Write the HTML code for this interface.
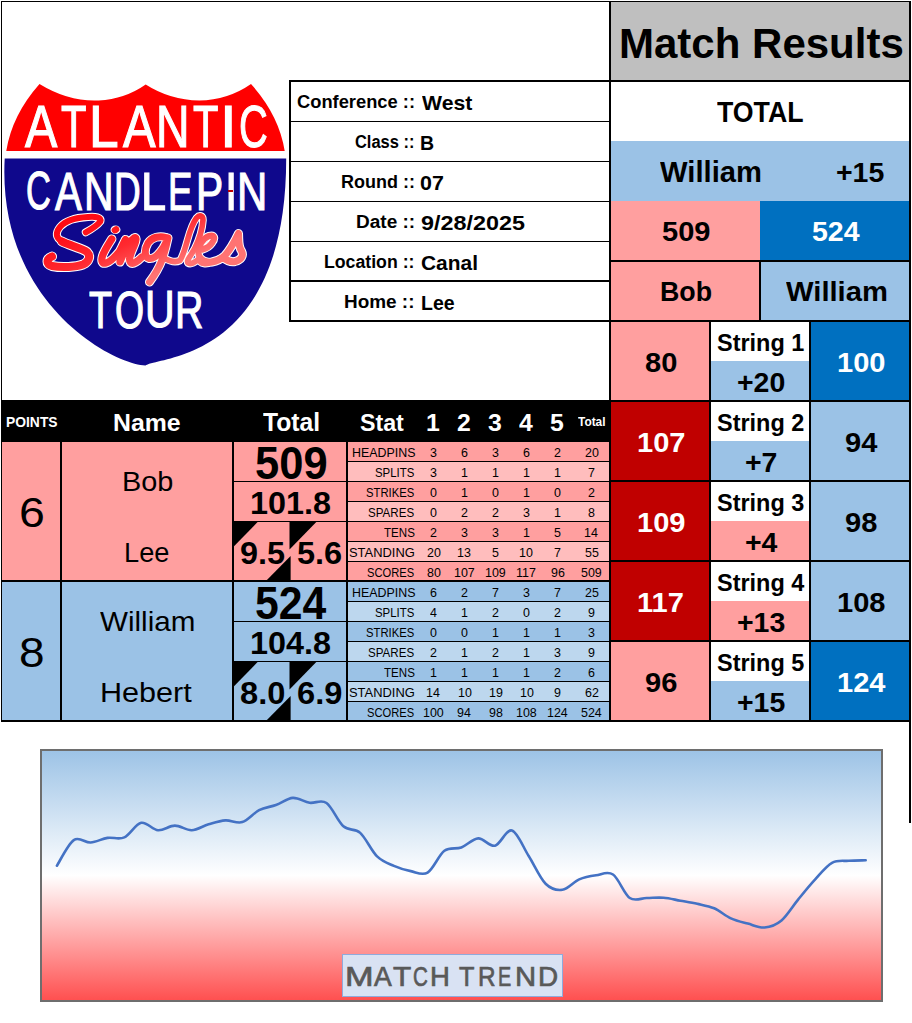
<!DOCTYPE html>
<html><head><meta charset="utf-8"><style>
html,body{margin:0;padding:0;background:#fff;}
#p{position:relative;width:912px;height:1023px;overflow:hidden;background:#fff;font-family:"Liberation Sans",sans-serif;}
#p div{position:absolute;}
.t{white-space:nowrap;transform-origin:0 0;}
</style></head><body><div id="p">
<svg style="position:absolute;left:0;top:0" width="300" height="380">
<path d="M39.5,84 Q69,102 98.7,100.5 Q125,99 145.7,84.5 Q170,100 199.2,100.5 Q228,100 251,84 Q279,115 284.7,151 L6.25,151 Q12,115 39.5,84 Z" fill="#FF0000"/>
<path d="M4.7,158.6 C-2.9,304.3 114.6,364.9 145.5,365.4 C158.8,356.2 286.2,360.6 286.2,158.6 Z" fill="#0F088C"/>
</svg><div class="t" style="left:25.25px;top:94.46px;font-size:59.86px;line-height:66.87px;font-weight:normal;color:#fff;transform:scaleX(0.8090);-webkit-text-stroke:1.2px #fff">A</div><div class="t" style="left:61.41px;top:94.46px;font-size:59.86px;line-height:66.87px;font-weight:normal;color:#fff;transform:scaleX(0.6976);-webkit-text-stroke:1.2px #fff">T</div><div class="t" style="left:89.39px;top:94.46px;font-size:59.86px;line-height:66.87px;font-weight:normal;color:#fff;transform:scaleX(0.8898);-webkit-text-stroke:1.2px #fff">L</div><div class="t" style="left:123.40px;top:94.46px;font-size:59.86px;line-height:66.87px;font-weight:normal;color:#fff;transform:scaleX(0.8165);-webkit-text-stroke:1.2px #fff">A</div><div class="t" style="left:156.34px;top:94.46px;font-size:59.86px;line-height:66.87px;font-weight:normal;color:#fff;transform:scaleX(0.7757);-webkit-text-stroke:1.2px #fff">N</div><div class="t" style="left:193.27px;top:94.46px;font-size:59.86px;line-height:66.87px;font-weight:normal;color:#fff;transform:scaleX(0.6947);-webkit-text-stroke:1.2px #fff">T</div><div class="t" style="left:220.45px;top:94.46px;font-size:59.86px;line-height:66.87px;font-weight:normal;color:#fff;transform:scaleX(1.0024);-webkit-text-stroke:1.2px #fff">I</div><div class="t" style="left:239.41px;top:94.46px;font-size:59.86px;line-height:66.87px;font-weight:normal;color:#fff;transform:scaleX(0.6656);-webkit-text-stroke:1.2px #fff">C</div><div class="t" style="left:26.43px;top:160.41px;font-size:54.06px;line-height:60.39px;font-weight:normal;color:#fff;transform:scaleX(0.6380);-webkit-text-stroke:1.2px #fff">C</div><div class="t" style="left:55.40px;top:161.41px;font-size:54.06px;line-height:60.39px;font-weight:normal;color:#fff;transform:scaleX(0.7455);-webkit-text-stroke:1.2px #fff">A</div><div class="t" style="left:84.38px;top:161.41px;font-size:54.06px;line-height:60.39px;font-weight:normal;color:#fff;transform:scaleX(0.7565);-webkit-text-stroke:1.2px #fff">N</div><div class="t" style="left:114.49px;top:161.41px;font-size:54.06px;line-height:60.39px;font-weight:normal;color:#fff;transform:scaleX(0.6840);-webkit-text-stroke:1.2px #fff">D</div><div class="t" style="left:141.44px;top:161.41px;font-size:54.06px;line-height:60.39px;font-weight:normal;color:#fff;transform:scaleX(0.8356);-webkit-text-stroke:1.2px #fff">L</div><div class="t" style="left:168.31px;top:161.41px;font-size:54.06px;line-height:60.39px;font-weight:normal;color:#fff;transform:scaleX(0.6788);-webkit-text-stroke:1.2px #fff">E</div><div class="t" style="left:196.29px;top:161.41px;font-size:54.06px;line-height:60.39px;font-weight:normal;color:#fff;transform:scaleX(0.7538);-webkit-text-stroke:1.2px #fff">P</div><div class="t" style="left:225.37px;top:161.41px;font-size:54.06px;line-height:60.39px;font-weight:normal;color:#fff;transform:scaleX(0.8178);-webkit-text-stroke:1.2px #fff">I</div><div class="t" style="left:237.39px;top:161.41px;font-size:54.06px;line-height:60.39px;font-weight:normal;color:#fff;transform:scaleX(0.7763);-webkit-text-stroke:1.2px #fff">N</div><div class="t" style="left:89.30px;top:282.39px;font-size:51.59px;line-height:57.64px;font-weight:normal;color:#fff;transform:scaleX(0.7311);-webkit-text-stroke:1.2px #fff">T</div><div class="t" style="left:115.27px;top:282.39px;font-size:51.59px;line-height:57.64px;font-weight:normal;color:#fff;transform:scaleX(0.7244);-webkit-text-stroke:1.2px #fff">O</div><div class="t" style="left:145.37px;top:281.43px;font-size:51.59px;line-height:57.64px;font-weight:normal;color:#fff;transform:scaleX(0.7957);-webkit-text-stroke:1.2px #fff">U</div><div class="t" style="left:175.30px;top:282.39px;font-size:51.59px;line-height:57.64px;font-weight:normal;color:#fff;transform:scaleX(0.7623);-webkit-text-stroke:1.2px #fff">R</div><div style="left:227.8px;top:190.3px;width:5.4px;height:2px;background:#C00000"></div><svg style="position:absolute;left:0;top:0" width="300" height="380">
<defs><linearGradient id="sg" gradientUnits="userSpaceOnUse" x1="100" y1="215" x2="130" y2="285"><stop offset="0" stop-color="#FF0A14"/><stop offset="0.5" stop-color="#FF2A30"/><stop offset="1" stop-color="#FF7373"/></linearGradient></defs>
<g fill="none" stroke="#FFF" stroke-linecap="round" stroke-linejoin="round"><path d="M85.8,232.3 C90,230 97,226 100.3,221.5 C102,217 95,216.5 88,217 C78,217.5 66,220 60,227 C55,233 56,238 62,241.5" stroke-width="8.0"/><path d="M62,241.5 C68,245 82,248 87,252 C91,256 89,262 83,264.5 C76,267 62,268 52,266 C46,264 46,259 52,256.5" stroke-width="10.0"/><path d="M111.8,239 C108,245 104,251 102.5,256 C101,261 102,264 106,263 C110,262 115,257 119.5,251.5 C122,247 124,242 125.5,239.5 C123,246 121,253 120,262 C124,252 129,241 134,238 C137,236.5 136.5,240 134,246 C131,253 128,259 130.5,262.5 C133,265 138,261 142,257" stroke-width="9.2"/><path d="M166,237.5 C160,235.5 152,237 148,243 C144,250 144.5,257 149,258.5 C154,259.5 159,254 163,248 C165.5,244 167,240 168,238 C166.5,245 165,252 162,260 C159,268 154,276 149.5,282" stroke-width="9.0"/><path d="M164,258 C170,261.5 176,262.5 180,260.5 C183,256 185,249 187.5,240 C190,231 193.5,222 196.5,218 C199.5,214.5 203,215.5 203,220 C202.5,228 199,240 194.5,249 C190.5,256 186,261 188,263 C191,265 195,262 199,259" stroke-width="7.6"/><path d="M199,259 C201,264 206,264.5 212,262 C205,262 199,259 198.5,253 C198,246 203,238 209,236 C214,234.5 216,238 212,243 C210,246 206,248.5 202.5,249.5" stroke-width="8.2"/><path d="M212,262 C217,261 221,259 224.5,256 C229,251 234,243 238.5,233.5 C239,240 238,246 241.5,251 C244,256 241,260 235,261.5 C230,262.5 226,260 223,257.5" stroke-width="9.0"/><ellipse cx="115.5" cy="229.8" rx="5" ry="4.3" fill="#fff" stroke="none"/></g>
<g fill="none" stroke="url(#sg)" stroke-linecap="round" stroke-linejoin="round"><path d="M85.8,232.3 C90,230 97,226 100.3,221.5 C102,217 95,216.5 88,217 C78,217.5 66,220 60,227 C55,233 56,238 62,241.5" stroke-width="6.0"/><path d="M62,241.5 C68,245 82,248 87,252 C91,256 89,262 83,264.5 C76,267 62,268 52,266 C46,264 46,259 52,256.5" stroke-width="8.0"/><path d="M111.8,239 C108,245 104,251 102.5,256 C101,261 102,264 106,263 C110,262 115,257 119.5,251.5 C122,247 124,242 125.5,239.5 C123,246 121,253 120,262 C124,252 129,241 134,238 C137,236.5 136.5,240 134,246 C131,253 128,259 130.5,262.5 C133,265 138,261 142,257" stroke-width="7.2"/><path d="M166,237.5 C160,235.5 152,237 148,243 C144,250 144.5,257 149,258.5 C154,259.5 159,254 163,248 C165.5,244 167,240 168,238 C166.5,245 165,252 162,260 C159,268 154,276 149.5,282" stroke-width="7.0"/><path d="M164,258 C170,261.5 176,262.5 180,260.5 C183,256 185,249 187.5,240 C190,231 193.5,222 196.5,218 C199.5,214.5 203,215.5 203,220 C202.5,228 199,240 194.5,249 C190.5,256 186,261 188,263 C191,265 195,262 199,259" stroke-width="5.6"/><path d="M199,259 C201,264 206,264.5 212,262 C205,262 199,259 198.5,253 C198,246 203,238 209,236 C214,234.5 216,238 212,243 C210,246 206,248.5 202.5,249.5" stroke-width="6.2"/><path d="M212,262 C217,261 221,259 224.5,256 C229,251 234,243 238.5,233.5 C239,240 238,246 241.5,251 C244,256 241,260 235,261.5 C230,262.5 226,260 223,257.5" stroke-width="7.0"/></g>
<ellipse cx="115.5" cy="229.8" rx="4" ry="3.3" fill="#FF1A20" transform="rotate(-30 115.5 229.8)"/>
</svg>
<div style="left:1px;top:1px;width:910px;height:1px;background:#000"></div><div style="left:1px;top:1px;width:1px;height:721px;background:#000"></div><div style="left:909px;top:1px;width:2px;height:822px;background:#000"></div><div style="left:611px;top:2px;width:298px;height:78px;background:#BFBFBF"></div><div style="left:609px;top:1px;width:2px;height:721px;background:#000"></div><div style="left:289px;top:80px;width:622px;height:2px;background:#000"></div><div style="left:611px;top:141px;width:298px;height:60px;background:#9BC2E6"></div><div style="left:611px;top:201px;width:149px;height:59px;background:#FF9F9F"></div><div style="left:760px;top:201px;width:149px;height:59px;background:#0070C0"></div><div style="left:609px;top:260px;width:302px;height:2px;background:#000"></div><div style="left:611px;top:262px;width:148px;height:58px;background:#FF9F9F"></div><div style="left:761px;top:262px;width:148px;height:58px;background:#9BC2E6"></div><div style="left:759px;top:260px;width:2px;height:62px;background:#000"></div><div style="left:289px;top:320px;width:622px;height:2px;background:#000"></div><div style="left:611px;top:322px;width:98px;height:78px;background:#FF9F9F"></div><div style="left:711px;top:361px;width:98px;height:39px;background:#9BC2E6"></div><div style="left:811px;top:322px;width:98px;height:78px;background:#0070C0"></div><div style="left:709px;top:320px;width:2px;height:82px;background:#000"></div><div style="left:809px;top:320px;width:2px;height:82px;background:#000"></div><div style="left:609px;top:400px;width:302px;height:2px;background:#000"></div><div style="left:611px;top:402px;width:98px;height:78px;background:#C00000"></div><div style="left:711px;top:441px;width:98px;height:39px;background:#9BC2E6"></div><div style="left:811px;top:402px;width:98px;height:78px;background:#9BC2E6"></div><div style="left:709px;top:400px;width:2px;height:82px;background:#000"></div><div style="left:809px;top:400px;width:2px;height:82px;background:#000"></div><div style="left:609px;top:480px;width:302px;height:2px;background:#000"></div><div style="left:611px;top:482px;width:98px;height:78px;background:#C00000"></div><div style="left:711px;top:521px;width:98px;height:39px;background:#FF9F9F"></div><div style="left:811px;top:482px;width:98px;height:78px;background:#9BC2E6"></div><div style="left:709px;top:480px;width:2px;height:82px;background:#000"></div><div style="left:809px;top:480px;width:2px;height:82px;background:#000"></div><div style="left:609px;top:560px;width:302px;height:2px;background:#000"></div><div style="left:611px;top:562px;width:98px;height:78px;background:#C00000"></div><div style="left:711px;top:601px;width:98px;height:39px;background:#FF9F9F"></div><div style="left:811px;top:562px;width:98px;height:78px;background:#9BC2E6"></div><div style="left:709px;top:560px;width:2px;height:82px;background:#000"></div><div style="left:809px;top:560px;width:2px;height:82px;background:#000"></div><div style="left:609px;top:640px;width:302px;height:2px;background:#000"></div><div style="left:611px;top:642px;width:98px;height:78px;background:#FF9F9F"></div><div style="left:711px;top:681px;width:98px;height:39px;background:#9BC2E6"></div><div style="left:811px;top:642px;width:98px;height:78px;background:#0070C0"></div><div style="left:709px;top:640px;width:2px;height:82px;background:#000"></div><div style="left:809px;top:640px;width:2px;height:82px;background:#000"></div><div style="left:609px;top:720px;width:302px;height:2px;background:#000"></div><div style="left:289px;top:80px;width:2px;height:242px;background:#000"></div><div style="left:291px;top:121px;width:318px;height:1px;background:#000"></div><div style="left:291px;top:161px;width:318px;height:1px;background:#000"></div><div style="left:291px;top:201px;width:318px;height:1px;background:#000"></div><div style="left:291px;top:241px;width:318px;height:1px;background:#000"></div><div style="left:291px;top:280px;width:318px;height:2px;background:#000"></div><div style="left:1px;top:400px;width:608px;height:42px;background:#000"></div><div style="left:2px;top:442px;width:58px;height:138px;background:#FF9F9F"></div><div style="left:62px;top:442px;width:170px;height:138px;background:#FF9F9F"></div><div style="left:234px;top:442px;width:112px;height:138px;background:#FF9F9F"></div><div style="left:348px;top:442px;width:261px;height:19px;background:#FF9F9F"></div><div style="left:348px;top:461px;width:261px;height:1px;background:#000"></div><div style="left:348px;top:462px;width:261px;height:19px;background:#FFBDBD"></div><div style="left:348px;top:481px;width:261px;height:1px;background:#000"></div><div style="left:348px;top:482px;width:261px;height:19px;background:#FF9F9F"></div><div style="left:348px;top:501px;width:261px;height:1px;background:#000"></div><div style="left:348px;top:502px;width:261px;height:19px;background:#FFBDBD"></div><div style="left:348px;top:521px;width:261px;height:1px;background:#000"></div><div style="left:348px;top:522px;width:261px;height:19px;background:#FF9F9F"></div><div style="left:348px;top:541px;width:261px;height:1px;background:#000"></div><div style="left:348px;top:542px;width:261px;height:19px;background:#FFBDBD"></div><div style="left:348px;top:561px;width:261px;height:1px;background:#000"></div><div style="left:348px;top:562px;width:261px;height:18px;background:#FF9F9F"></div><div style="left:234px;top:481px;width:112px;height:1px;background:#000"></div><div style="left:234px;top:521px;width:112px;height:1px;background:#000"></div><div style="left:1px;top:580px;width:610px;height:2px;background:#000"></div><div style="left:2px;top:582px;width:58px;height:138px;background:#9BC2E6"></div><div style="left:62px;top:582px;width:170px;height:138px;background:#9BC2E6"></div><div style="left:234px;top:582px;width:112px;height:138px;background:#9BC2E6"></div><div style="left:348px;top:582px;width:261px;height:19px;background:#9BC2E6"></div><div style="left:348px;top:601px;width:261px;height:1px;background:#000"></div><div style="left:348px;top:602px;width:261px;height:19px;background:#BDD7EE"></div><div style="left:348px;top:621px;width:261px;height:1px;background:#000"></div><div style="left:348px;top:622px;width:261px;height:19px;background:#9BC2E6"></div><div style="left:348px;top:641px;width:261px;height:1px;background:#000"></div><div style="left:348px;top:642px;width:261px;height:19px;background:#BDD7EE"></div><div style="left:348px;top:661px;width:261px;height:1px;background:#000"></div><div style="left:348px;top:662px;width:261px;height:19px;background:#9BC2E6"></div><div style="left:348px;top:681px;width:261px;height:1px;background:#000"></div><div style="left:348px;top:682px;width:261px;height:19px;background:#BDD7EE"></div><div style="left:348px;top:701px;width:261px;height:1px;background:#000"></div><div style="left:348px;top:702px;width:261px;height:18px;background:#9BC2E6"></div><div style="left:234px;top:621px;width:112px;height:1px;background:#000"></div><div style="left:234px;top:661px;width:112px;height:1px;background:#000"></div><div style="left:1px;top:720px;width:910px;height:2px;background:#000"></div><div style="left:60px;top:441px;width:2px;height:281px;background:#000"></div><div style="left:232px;top:441px;width:2px;height:281px;background:#000"></div><div style="left:346px;top:441px;width:2px;height:281px;background:#000"></div><svg style="position:absolute;left:0;top:0" width="912" height="1023" fill="#000"><polygon points="234,522 257.6,522 234,546.3"/><polygon points="289.5,522 316.3,522 289.5,549.5"/><polygon points="290.6,556 290.6,580 266.9,580"/><polygon points="234,662 257.6,662 234,686.3"/><polygon points="289.5,662 316.3,662 289.5,689.5"/><polygon points="290.6,696 290.6,720 266.9,720"/></svg>
<div class="t" style="left:297.29px;top:93.42px;font-size:17.83px;line-height:19.92px;font-weight:bold;color:#000;transform:scaleX(1.0268);">Conference ::</div><div class="t" style="left:355.27px;top:133.42px;font-size:17.83px;line-height:19.92px;font-weight:bold;color:#000;transform:scaleX(0.9218);">Class ::</div><div class="t" style="left:341.46px;top:173.42px;font-size:17.83px;line-height:19.92px;font-weight:bold;color:#000;transform:scaleX(1.0082);">Round ::</div><div class="t" style="left:356.44px;top:213.26px;font-size:17.83px;line-height:19.92px;font-weight:bold;color:#000;transform:scaleX(1.0668);">Date ::</div><div class="t" style="left:324.40px;top:253.42px;font-size:17.83px;line-height:19.92px;font-weight:bold;color:#000;transform:scaleX(0.9928);">Location ::</div><div class="t" style="left:344.27px;top:293.26px;font-size:17.83px;line-height:19.92px;font-weight:bold;color:#000;transform:scaleX(1.0621);">Home ::</div><div class="t" style="left:422.27px;top:92.39px;font-size:20.14px;line-height:22.51px;font-weight:bold;color:#000;transform:scaleX(1.0538);">West</div><div class="t" style="left:420.28px;top:132.46px;font-size:20.14px;line-height:22.51px;font-weight:bold;color:#000;transform:scaleX(0.9684);">B</div><div class="t" style="left:420.32px;top:172.39px;font-size:20.14px;line-height:22.51px;font-weight:bold;color:#000;transform:scaleX(1.0651);">07</div><div class="t" style="left:421.48px;top:212.26px;font-size:20.14px;line-height:22.51px;font-weight:bold;color:#000;transform:scaleX(1.1602);">9/28/2025</div><div class="t" style="left:421.46px;top:252.25px;font-size:20.14px;line-height:22.51px;font-weight:bold;color:#000;transform:scaleX(1.0403);">Canal</div><div class="t" style="left:421.33px;top:292.39px;font-size:20.14px;line-height:22.51px;font-weight:bold;color:#000;transform:scaleX(0.9683);">Lee</div><div class="t" style="left:619.39px;top:19.32px;font-size:43.04px;line-height:48.09px;font-weight:bold;color:#000;transform:scaleX(0.9763);">Match Results</div><div class="t" style="left:717.36px;top:96.42px;font-size:28.84px;line-height:32.22px;font-weight:bold;color:#000;transform:scaleX(0.9264);">TOTAL</div><div class="t" style="left:660.37px;top:155.49px;font-size:29.71px;line-height:33.19px;font-weight:bold;color:#000;transform:scaleX(0.9828);">William</div><div class="t" style="left:836.41px;top:157.45px;font-size:27.97px;line-height:31.25px;font-weight:bold;color:#000;transform:scaleX(1.0177);">+15</div><div class="t" style="left:662.30px;top:216.36px;font-size:27.83px;line-height:31.09px;font-weight:bold;color:#000;transform:scaleX(1.0444);">509</div><div class="t" style="left:812.27px;top:216.36px;font-size:27.83px;line-height:31.09px;font-weight:bold;color:#fff;transform:scaleX(1.0252);">524</div><div class="t" style="left:660.28px;top:278.34px;font-size:26.81px;line-height:29.95px;font-weight:bold;color:#000;transform:scaleX(0.9993);">Bob</div><div class="t" style="left:786.28px;top:278.34px;font-size:26.81px;line-height:29.95px;font-weight:bold;color:#000;transform:scaleX(1.0891);">William</div><div class="t" style="left:645.45px;top:348.27px;font-size:27.68px;line-height:30.93px;font-weight:bold;color:#000;transform:scaleX(1.0507);">80</div><div class="t" style="left:837.25px;top:348.27px;font-size:27.68px;line-height:30.93px;font-weight:bold;color:#fff;transform:scaleX(1.0507);">100</div><div class="t" style="left:717.40px;top:330.46px;font-size:24.06px;line-height:26.88px;font-weight:bold;color:#000;transform:scaleX(0.9754);">String 1</div><div class="t" style="left:737.47px;top:367.30px;font-size:28.12px;line-height:31.41px;font-weight:bold;color:#000;transform:scaleX(1.0126);">+20</div><div class="t" style="left:637.07px;top:428.27px;font-size:27.68px;line-height:30.93px;font-weight:bold;color:#fff;transform:scaleX(1.0507);">107</div><div class="t" style="left:845.30px;top:428.27px;font-size:27.68px;line-height:30.93px;font-weight:bold;color:#000;transform:scaleX(1.0507);">94</div><div class="t" style="left:717.32px;top:410.46px;font-size:24.06px;line-height:26.88px;font-weight:bold;color:#000;transform:scaleX(0.9754);">String 2</div><div class="t" style="left:745.37px;top:447.30px;font-size:28.12px;line-height:31.41px;font-weight:bold;color:#000;transform:scaleX(1.0126);">+7</div><div class="t" style="left:636.75px;top:508.27px;font-size:27.68px;line-height:30.93px;font-weight:bold;color:#fff;transform:scaleX(1.0507);">109</div><div class="t" style="left:845.41px;top:508.27px;font-size:27.68px;line-height:30.93px;font-weight:bold;color:#000;transform:scaleX(1.0507);">98</div><div class="t" style="left:717.26px;top:490.46px;font-size:24.06px;line-height:26.88px;font-weight:bold;color:#000;transform:scaleX(0.9754);">String 3</div><div class="t" style="left:745.37px;top:527.30px;font-size:28.12px;line-height:31.41px;font-weight:bold;color:#000;transform:scaleX(1.0126);">+4</div><div class="t" style="left:637.37px;top:588.27px;font-size:27.68px;line-height:30.93px;font-weight:bold;color:#fff;transform:scaleX(1.0507);">117</div><div class="t" style="left:836.73px;top:588.27px;font-size:27.68px;line-height:30.93px;font-weight:bold;color:#000;transform:scaleX(1.0507);">108</div><div class="t" style="left:717.41px;top:570.46px;font-size:24.06px;line-height:26.88px;font-weight:bold;color:#000;transform:scaleX(0.9754);">String 4</div><div class="t" style="left:737.40px;top:607.30px;font-size:28.12px;line-height:31.41px;font-weight:bold;color:#000;transform:scaleX(1.0126);">+13</div><div class="t" style="left:645.43px;top:668.25px;font-size:27.68px;line-height:30.93px;font-weight:bold;color:#000;transform:scaleX(1.0507);">96</div><div class="t" style="left:836.86px;top:668.25px;font-size:27.68px;line-height:30.93px;font-weight:bold;color:#fff;transform:scaleX(1.0507);">124</div><div class="t" style="left:717.40px;top:650.46px;font-size:24.06px;line-height:26.88px;font-weight:bold;color:#000;transform:scaleX(0.9754);">String 5</div><div class="t" style="left:737.26px;top:687.35px;font-size:28.12px;line-height:31.41px;font-weight:bold;color:#000;transform:scaleX(1.0126);">+15</div><div class="t" style="left:6.40px;top:414.31px;font-size:15.07px;line-height:16.84px;font-weight:bold;color:#fff;transform:scaleX(0.9200);">POINTS</div><div class="t" style="left:113.39px;top:409.32px;font-size:24.49px;line-height:27.36px;font-weight:bold;color:#fff;transform:scaleX(1.0141);">Name</div><div class="t" style="left:263.38px;top:408.43px;font-size:25.80px;line-height:28.82px;font-weight:bold;color:#fff;transform:scaleX(0.9557);">Total</div><div class="t" style="left:360.45px;top:409.46px;font-size:24.35px;line-height:27.20px;font-weight:bold;color:#fff;transform:scaleX(0.9528);">Stat</div><div class="t" style="left:426.34px;top:410.25px;font-size:23.48px;line-height:26.23px;font-weight:bold;color:#fff;transform:scaleX(1.0559);">1</div><div class="t" style="left:457.33px;top:410.25px;font-size:23.48px;line-height:26.23px;font-weight:bold;color:#fff;transform:scaleX(1.0559);">2</div><div class="t" style="left:488.09px;top:410.25px;font-size:23.48px;line-height:26.23px;font-weight:bold;color:#fff;transform:scaleX(1.0559);">3</div><div class="t" style="left:519.05px;top:410.25px;font-size:23.48px;line-height:26.23px;font-weight:bold;color:#fff;transform:scaleX(1.0559);">4</div><div class="t" style="left:550.11px;top:410.25px;font-size:23.48px;line-height:26.23px;font-weight:bold;color:#fff;transform:scaleX(1.0559);">5</div><div class="t" style="left:578.38px;top:416.27px;font-size:12.32px;line-height:13.76px;font-weight:bold;color:#fff;transform:scaleX(0.9661);">Total</div><div class="t" style="left:19.38px;top:489.29px;font-size:42.32px;line-height:47.28px;font-weight:normal;color:#000;transform:scaleX(1.0977);">6</div><div class="t" style="left:122.47px;top:466.47px;font-size:28.41px;line-height:31.73px;font-weight:normal;color:#000;transform:scaleX(1.0158);">Bob</div><div class="t" style="left:124.45px;top:538.45px;font-size:27.68px;line-height:30.93px;font-weight:normal;color:#000;transform:scaleX(0.9829);">Lee</div><div class="t" style="left:255.30px;top:438.43px;font-size:45.94px;line-height:51.33px;font-weight:bold;color:#000;transform:scaleX(0.9468);">509</div><div class="t" style="left:250.26px;top:486.25px;font-size:31.59px;line-height:35.30px;font-weight:bold;color:#000;transform:scaleX(1.0244);">101.8</div><div class="t" style="left:240.39px;top:536.49px;font-size:31.74px;line-height:35.46px;font-weight:bold;color:#000;transform:scaleX(1.0210);">9.5</div><div class="t" style="left:297.45px;top:536.49px;font-size:31.74px;line-height:35.46px;font-weight:bold;color:#000;transform:scaleX(1.0249);">5.6</div><div class="t" style="left:352.48px;top:446.39px;font-size:13.04px;line-height:14.57px;font-weight:normal;color:#000;transform:scaleX(0.9520);">HEADPINS</div><div class="t" style="left:430.29px;top:446.39px;font-size:13.04px;line-height:14.57px;font-weight:normal;color:#000;transform:scaleX(0.9551);">3</div><div class="t" style="left:461.23px;top:446.39px;font-size:13.04px;line-height:14.57px;font-weight:normal;color:#000;transform:scaleX(0.9551);">6</div><div class="t" style="left:492.29px;top:446.39px;font-size:13.04px;line-height:14.57px;font-weight:normal;color:#000;transform:scaleX(0.9551);">3</div><div class="t" style="left:523.23px;top:446.39px;font-size:13.04px;line-height:14.57px;font-weight:normal;color:#000;transform:scaleX(0.9551);">6</div><div class="t" style="left:554.39px;top:446.39px;font-size:13.04px;line-height:14.57px;font-weight:normal;color:#000;transform:scaleX(0.9551);">2</div><div class="t" style="left:585.04px;top:446.39px;font-size:13.04px;line-height:14.57px;font-weight:normal;color:#000;transform:scaleX(0.9551);">20</div><div class="t" style="left:375.31px;top:466.39px;font-size:13.04px;line-height:14.57px;font-weight:normal;color:#000;transform:scaleX(0.8752);">SPLITS</div><div class="t" style="left:430.04px;top:466.39px;font-size:13.04px;line-height:14.57px;font-weight:normal;color:#000;transform:scaleX(0.9551);">3</div><div class="t" style="left:460.86px;top:466.39px;font-size:13.04px;line-height:14.57px;font-weight:normal;color:#000;transform:scaleX(0.9551);">1</div><div class="t" style="left:491.86px;top:466.39px;font-size:13.04px;line-height:14.57px;font-weight:normal;color:#000;transform:scaleX(0.9551);">1</div><div class="t" style="left:522.86px;top:466.39px;font-size:13.04px;line-height:14.57px;font-weight:normal;color:#000;transform:scaleX(0.9551);">1</div><div class="t" style="left:553.96px;top:466.39px;font-size:13.04px;line-height:14.57px;font-weight:normal;color:#000;transform:scaleX(0.9551);">1</div><div class="t" style="left:588.34px;top:466.39px;font-size:13.04px;line-height:14.57px;font-weight:normal;color:#000;transform:scaleX(0.9551);">7</div><div class="t" style="left:366.32px;top:486.39px;font-size:13.04px;line-height:14.57px;font-weight:normal;color:#000;transform:scaleX(0.8665);">STRIKES</div><div class="t" style="left:430.01px;top:486.39px;font-size:13.04px;line-height:14.57px;font-weight:normal;color:#000;transform:scaleX(0.9551);">0</div><div class="t" style="left:460.86px;top:486.39px;font-size:13.04px;line-height:14.57px;font-weight:normal;color:#000;transform:scaleX(0.9551);">1</div><div class="t" style="left:492.01px;top:486.39px;font-size:13.04px;line-height:14.57px;font-weight:normal;color:#000;transform:scaleX(0.9551);">0</div><div class="t" style="left:522.86px;top:486.39px;font-size:13.04px;line-height:14.57px;font-weight:normal;color:#000;transform:scaleX(0.9551);">1</div><div class="t" style="left:554.11px;top:486.39px;font-size:13.04px;line-height:14.57px;font-weight:normal;color:#000;transform:scaleX(0.9551);">0</div><div class="t" style="left:588.34px;top:486.39px;font-size:13.04px;line-height:14.57px;font-weight:normal;color:#000;transform:scaleX(0.9551);">2</div><div class="t" style="left:368.25px;top:506.39px;font-size:13.04px;line-height:14.57px;font-weight:normal;color:#000;transform:scaleX(0.8889);">SPARES</div><div class="t" style="left:430.01px;top:506.39px;font-size:13.04px;line-height:14.57px;font-weight:normal;color:#000;transform:scaleX(0.9551);">0</div><div class="t" style="left:461.04px;top:506.39px;font-size:13.04px;line-height:14.57px;font-weight:normal;color:#000;transform:scaleX(0.9551);">2</div><div class="t" style="left:492.04px;top:506.39px;font-size:13.04px;line-height:14.57px;font-weight:normal;color:#000;transform:scaleX(0.9551);">2</div><div class="t" style="left:523.04px;top:506.39px;font-size:13.04px;line-height:14.57px;font-weight:normal;color:#000;transform:scaleX(0.9551);">3</div><div class="t" style="left:553.96px;top:506.39px;font-size:13.04px;line-height:14.57px;font-weight:normal;color:#000;transform:scaleX(0.9551);">1</div><div class="t" style="left:588.31px;top:506.39px;font-size:13.04px;line-height:14.57px;font-weight:normal;color:#000;transform:scaleX(0.9551);">8</div><div class="t" style="left:384.29px;top:526.39px;font-size:13.04px;line-height:14.57px;font-weight:normal;color:#000;transform:scaleX(0.8876);">TENS</div><div class="t" style="left:429.79px;top:526.39px;font-size:13.04px;line-height:14.57px;font-weight:normal;color:#000;transform:scaleX(0.9551);">2</div><div class="t" style="left:460.79px;top:526.39px;font-size:13.04px;line-height:14.57px;font-weight:normal;color:#000;transform:scaleX(0.9551);">3</div><div class="t" style="left:491.79px;top:526.39px;font-size:13.04px;line-height:14.57px;font-weight:normal;color:#000;transform:scaleX(0.9551);">3</div><div class="t" style="left:522.61px;top:526.39px;font-size:13.04px;line-height:14.57px;font-weight:normal;color:#000;transform:scaleX(0.9551);">1</div><div class="t" style="left:553.89px;top:526.39px;font-size:13.04px;line-height:14.57px;font-weight:normal;color:#000;transform:scaleX(0.9551);">5</div><div class="t" style="left:584.36px;top:526.39px;font-size:13.04px;line-height:14.57px;font-weight:normal;color:#000;transform:scaleX(0.9551);">14</div><div class="t" style="left:349.49px;top:546.39px;font-size:13.04px;line-height:14.57px;font-weight:normal;color:#000;transform:scaleX(0.9909);">STANDING</div><div class="t" style="left:426.62px;top:546.39px;font-size:13.04px;line-height:14.57px;font-weight:normal;color:#000;transform:scaleX(0.9551);">20</div><div class="t" style="left:457.49px;top:546.39px;font-size:13.04px;line-height:14.57px;font-weight:normal;color:#000;transform:scaleX(0.9551);">13</div><div class="t" style="left:492.17px;top:546.39px;font-size:13.04px;line-height:14.57px;font-weight:normal;color:#000;transform:scaleX(0.9551);">5</div><div class="t" style="left:519.46px;top:546.39px;font-size:13.04px;line-height:14.57px;font-weight:normal;color:#000;transform:scaleX(0.9551);">10</div><div class="t" style="left:554.27px;top:546.39px;font-size:13.04px;line-height:14.57px;font-weight:normal;color:#000;transform:scaleX(0.9551);">7</div><div class="t" style="left:585.01px;top:546.39px;font-size:13.04px;line-height:14.57px;font-weight:normal;color:#000;transform:scaleX(0.9551);">55</div><div class="t" style="left:367.27px;top:566.39px;font-size:13.04px;line-height:14.57px;font-weight:normal;color:#000;transform:scaleX(0.8558);">SCORES</div><div class="t" style="left:426.52px;top:566.39px;font-size:13.04px;line-height:14.57px;font-weight:normal;color:#000;transform:scaleX(0.9551);">80</div><div class="t" style="left:453.97px;top:566.39px;font-size:13.04px;line-height:14.57px;font-weight:normal;color:#000;transform:scaleX(0.9551);">107</div><div class="t" style="left:484.94px;top:566.39px;font-size:13.04px;line-height:14.57px;font-weight:normal;color:#000;transform:scaleX(0.9551);">109</div><div class="t" style="left:516.41px;top:566.39px;font-size:13.04px;line-height:14.57px;font-weight:normal;color:#000;transform:scaleX(0.9551);">117</div><div class="t" style="left:550.66px;top:566.39px;font-size:13.04px;line-height:14.57px;font-weight:normal;color:#000;transform:scaleX(0.9551);">96</div><div class="t" style="left:581.46px;top:566.39px;font-size:13.04px;line-height:14.57px;font-weight:normal;color:#000;transform:scaleX(0.9551);">509</div><div class="t" style="left:19.38px;top:629.29px;font-size:42.32px;line-height:47.28px;font-weight:normal;color:#000;transform:scaleX(1.0860);">8</div><div class="t" style="left:100.35px;top:606.47px;font-size:28.41px;line-height:31.73px;font-weight:normal;color:#000;transform:scaleX(1.0422);">William</div><div class="t" style="left:100.43px;top:678.32px;font-size:27.68px;line-height:30.93px;font-weight:normal;color:#000;transform:scaleX(1.1042);">Hebert</div><div class="t" style="left:255.32px;top:578.43px;font-size:45.94px;line-height:51.33px;font-weight:bold;color:#000;transform:scaleX(0.9294);">524</div><div class="t" style="left:250.26px;top:626.25px;font-size:31.59px;line-height:35.30px;font-weight:bold;color:#000;transform:scaleX(1.0244);">104.8</div><div class="t" style="left:240.30px;top:676.49px;font-size:31.74px;line-height:35.46px;font-weight:bold;color:#000;transform:scaleX(1.0287);">8.0</div><div class="t" style="left:297.28px;top:676.49px;font-size:31.74px;line-height:35.46px;font-weight:bold;color:#000;transform:scaleX(1.0287);">6.9</div><div class="t" style="left:352.48px;top:586.39px;font-size:13.04px;line-height:14.57px;font-weight:normal;color:#000;transform:scaleX(0.9520);">HEADPINS</div><div class="t" style="left:430.23px;top:586.39px;font-size:13.04px;line-height:14.57px;font-weight:normal;color:#000;transform:scaleX(0.9551);">6</div><div class="t" style="left:461.29px;top:586.39px;font-size:13.04px;line-height:14.57px;font-weight:normal;color:#000;transform:scaleX(0.9551);">2</div><div class="t" style="left:492.29px;top:586.39px;font-size:13.04px;line-height:14.57px;font-weight:normal;color:#000;transform:scaleX(0.9551);">7</div><div class="t" style="left:523.29px;top:586.39px;font-size:13.04px;line-height:14.57px;font-weight:normal;color:#000;transform:scaleX(0.9551);">3</div><div class="t" style="left:554.39px;top:586.39px;font-size:13.04px;line-height:14.57px;font-weight:normal;color:#000;transform:scaleX(0.9551);">7</div><div class="t" style="left:585.07px;top:586.39px;font-size:13.04px;line-height:14.57px;font-weight:normal;color:#000;transform:scaleX(0.9551);">25</div><div class="t" style="left:375.31px;top:606.39px;font-size:13.04px;line-height:14.57px;font-weight:normal;color:#000;transform:scaleX(0.8752);">SPLITS</div><div class="t" style="left:430.11px;top:606.39px;font-size:13.04px;line-height:14.57px;font-weight:normal;color:#000;transform:scaleX(0.9551);">4</div><div class="t" style="left:460.86px;top:606.39px;font-size:13.04px;line-height:14.57px;font-weight:normal;color:#000;transform:scaleX(0.9551);">1</div><div class="t" style="left:492.04px;top:606.39px;font-size:13.04px;line-height:14.57px;font-weight:normal;color:#000;transform:scaleX(0.9551);">2</div><div class="t" style="left:523.01px;top:606.39px;font-size:13.04px;line-height:14.57px;font-weight:normal;color:#000;transform:scaleX(0.9551);">0</div><div class="t" style="left:554.14px;top:606.39px;font-size:13.04px;line-height:14.57px;font-weight:normal;color:#000;transform:scaleX(0.9551);">2</div><div class="t" style="left:588.34px;top:606.39px;font-size:13.04px;line-height:14.57px;font-weight:normal;color:#000;transform:scaleX(0.9551);">9</div><div class="t" style="left:366.32px;top:626.39px;font-size:13.04px;line-height:14.57px;font-weight:normal;color:#000;transform:scaleX(0.8665);">STRIKES</div><div class="t" style="left:430.01px;top:626.39px;font-size:13.04px;line-height:14.57px;font-weight:normal;color:#000;transform:scaleX(0.9551);">0</div><div class="t" style="left:461.01px;top:626.39px;font-size:13.04px;line-height:14.57px;font-weight:normal;color:#000;transform:scaleX(0.9551);">0</div><div class="t" style="left:491.86px;top:626.39px;font-size:13.04px;line-height:14.57px;font-weight:normal;color:#000;transform:scaleX(0.9551);">1</div><div class="t" style="left:522.86px;top:626.39px;font-size:13.04px;line-height:14.57px;font-weight:normal;color:#000;transform:scaleX(0.9551);">1</div><div class="t" style="left:553.96px;top:626.39px;font-size:13.04px;line-height:14.57px;font-weight:normal;color:#000;transform:scaleX(0.9551);">1</div><div class="t" style="left:588.34px;top:626.39px;font-size:13.04px;line-height:14.57px;font-weight:normal;color:#000;transform:scaleX(0.9551);">3</div><div class="t" style="left:368.25px;top:646.39px;font-size:13.04px;line-height:14.57px;font-weight:normal;color:#000;transform:scaleX(0.8889);">SPARES</div><div class="t" style="left:430.04px;top:646.39px;font-size:13.04px;line-height:14.57px;font-weight:normal;color:#000;transform:scaleX(0.9551);">2</div><div class="t" style="left:460.86px;top:646.39px;font-size:13.04px;line-height:14.57px;font-weight:normal;color:#000;transform:scaleX(0.9551);">1</div><div class="t" style="left:492.04px;top:646.39px;font-size:13.04px;line-height:14.57px;font-weight:normal;color:#000;transform:scaleX(0.9551);">2</div><div class="t" style="left:522.86px;top:646.39px;font-size:13.04px;line-height:14.57px;font-weight:normal;color:#000;transform:scaleX(0.9551);">1</div><div class="t" style="left:554.14px;top:646.39px;font-size:13.04px;line-height:14.57px;font-weight:normal;color:#000;transform:scaleX(0.9551);">3</div><div class="t" style="left:588.34px;top:646.39px;font-size:13.04px;line-height:14.57px;font-weight:normal;color:#000;transform:scaleX(0.9551);">9</div><div class="t" style="left:384.29px;top:666.39px;font-size:13.04px;line-height:14.57px;font-weight:normal;color:#000;transform:scaleX(0.8876);">TENS</div><div class="t" style="left:429.86px;top:666.39px;font-size:13.04px;line-height:14.57px;font-weight:normal;color:#000;transform:scaleX(0.9551);">1</div><div class="t" style="left:460.86px;top:666.39px;font-size:13.04px;line-height:14.57px;font-weight:normal;color:#000;transform:scaleX(0.9551);">1</div><div class="t" style="left:491.86px;top:666.39px;font-size:13.04px;line-height:14.57px;font-weight:normal;color:#000;transform:scaleX(0.9551);">1</div><div class="t" style="left:522.86px;top:666.39px;font-size:13.04px;line-height:14.57px;font-weight:normal;color:#000;transform:scaleX(0.9551);">1</div><div class="t" style="left:554.14px;top:666.39px;font-size:13.04px;line-height:14.57px;font-weight:normal;color:#000;transform:scaleX(0.9551);">2</div><div class="t" style="left:588.28px;top:666.39px;font-size:13.04px;line-height:14.57px;font-weight:normal;color:#000;transform:scaleX(0.9551);">6</div><div class="t" style="left:349.49px;top:686.39px;font-size:13.04px;line-height:14.57px;font-weight:normal;color:#000;transform:scaleX(0.9909);">STANDING</div><div class="t" style="left:426.48px;top:686.39px;font-size:13.04px;line-height:14.57px;font-weight:normal;color:#000;transform:scaleX(0.9551);">14</div><div class="t" style="left:457.51px;top:686.39px;font-size:13.04px;line-height:14.57px;font-weight:normal;color:#000;transform:scaleX(0.9551);">10</div><div class="t" style="left:488.57px;top:686.39px;font-size:13.04px;line-height:14.57px;font-weight:normal;color:#000;transform:scaleX(0.9551);">19</div><div class="t" style="left:519.51px;top:686.39px;font-size:13.04px;line-height:14.57px;font-weight:normal;color:#000;transform:scaleX(0.9551);">10</div><div class="t" style="left:554.32px;top:686.39px;font-size:13.04px;line-height:14.57px;font-weight:normal;color:#000;transform:scaleX(0.9551);">9</div><div class="t" style="left:585.06px;top:686.39px;font-size:13.04px;line-height:14.57px;font-weight:normal;color:#000;transform:scaleX(0.9551);">62</div><div class="t" style="left:367.27px;top:706.39px;font-size:13.04px;line-height:14.57px;font-weight:normal;color:#000;transform:scaleX(0.8558);">SCORES</div><div class="t" style="left:422.88px;top:706.39px;font-size:13.04px;line-height:14.57px;font-weight:normal;color:#000;transform:scaleX(0.9551);">100</div><div class="t" style="left:457.49px;top:706.39px;font-size:13.04px;line-height:14.57px;font-weight:normal;color:#000;transform:scaleX(0.9551);">94</div><div class="t" style="left:488.56px;top:706.39px;font-size:13.04px;line-height:14.57px;font-weight:normal;color:#000;transform:scaleX(0.9551);">98</div><div class="t" style="left:515.91px;top:706.39px;font-size:13.04px;line-height:14.57px;font-weight:normal;color:#000;transform:scaleX(0.9551);">108</div><div class="t" style="left:546.95px;top:706.39px;font-size:13.04px;line-height:14.57px;font-weight:normal;color:#000;transform:scaleX(0.9551);">124</div><div class="t" style="left:581.37px;top:706.39px;font-size:13.04px;line-height:14.57px;font-weight:normal;color:#000;transform:scaleX(0.9551);">524</div>
<div style="left:40px;top:749px;width:843px;height:253px;box-sizing:border-box;border:2px solid #6E6E6E;background:linear-gradient(#9DC3E6 0%,#fff 50%,#FF5050 100%)"></div>
<svg style="position:absolute;left:0;top:0" width="912" height="1023"><path d="M56.9,865.7 C59.7,861.4 68.1,844.0 73.8,840.1 C79.4,836.2 85.0,842.9 90.6,842.5 C96.2,842.1 101.8,838.8 107.5,837.9 C113.1,837.0 118.7,839.9 124.3,837.4 C129.9,834.9 135.5,824.0 141.2,822.8 C146.8,821.6 152.4,829.7 158.0,830.2 C163.6,830.7 169.2,825.6 174.9,825.6 C180.5,825.6 186.1,830.4 191.7,830.2 C197.3,830.0 202.9,825.9 208.6,824.3 C214.2,822.7 219.8,820.8 225.4,820.4 C231.0,820.0 236.6,823.8 242.3,822.1 C247.9,820.4 253.5,813.1 259.1,810.2 C264.7,807.4 270.3,807.0 275.9,805.0 C281.6,803.0 287.2,798.3 292.8,797.9 C298.4,797.5 304.0,801.9 309.7,802.8 C315.3,803.6 320.9,799.1 326.5,803.0 C332.1,806.9 337.7,821.3 343.4,826.3 C349.0,831.3 354.6,827.9 360.2,832.9 C365.8,837.9 371.4,850.9 377.1,856.4 C382.7,861.9 388.3,863.4 393.9,865.9 C399.5,868.4 405.1,870.0 410.8,871.1 C416.4,872.2 422.0,876.0 427.6,872.6 C433.2,869.2 438.8,855.0 444.4,850.8 C450.1,846.6 455.7,849.6 461.3,847.5 C466.9,845.4 472.5,838.7 478.2,838.4 C483.8,838.1 489.4,847.0 495.0,845.7 C500.6,844.4 506.2,828.8 511.9,830.5 C517.5,832.2 523.1,847.1 528.7,856.0 C534.3,864.9 539.9,878.2 545.6,883.8 C551.2,889.4 556.8,890.5 562.4,889.8 C568.0,889.1 573.6,881.8 579.2,879.4 C584.9,877.0 590.5,876.1 596.1,875.3 C601.7,874.5 607.3,870.7 613.0,874.5 C618.6,878.3 624.2,894.1 629.8,898.0 C635.4,901.9 641.0,898.0 646.6,898.0 C652.3,898.0 657.9,897.3 663.5,897.8 C669.1,898.2 674.7,899.7 680.4,900.7 C686.0,901.7 691.6,902.5 697.2,903.8 C702.8,905.1 708.4,905.9 714.1,908.3 C719.7,910.7 725.3,915.8 730.9,918.4 C736.5,921.0 742.1,922.1 747.8,923.6 C753.4,925.1 759.0,928.0 764.6,927.5 C770.2,927.0 775.8,925.1 781.5,920.4 C787.1,915.7 792.7,906.1 798.3,899.3 C803.9,892.4 809.5,885.4 815.2,879.3 C820.8,873.2 826.4,865.9 832.0,862.8 C837.6,859.7 843.2,861.2 848.9,860.8 C854.5,860.4 862.9,860.4 865.7,860.3" fill="none" stroke="#4472C4" stroke-width="2.6" stroke-linecap="round" stroke-linejoin="round"/></svg>
<div style="left:342px;top:954px;width:221px;height:43px;box-sizing:border-box;border:1px solid #8FAADC;background:#D9E2F3"></div><div class="t" style="left:345.25px;top:961.33px;font-size:27.97px;line-height:31.25px;font-weight:normal;color:#595959;transform:scaleX(1.2273);-webkit-text-stroke:0.7px #595959">M</div><div class="t" style="left:374.40px;top:961.33px;font-size:27.97px;line-height:31.25px;font-weight:normal;color:#595959;transform:scaleX(0.9516);-webkit-text-stroke:0.7px #595959">A</div><div class="t" style="left:392.90px;top:961.33px;font-size:27.97px;line-height:31.25px;font-weight:normal;color:#595959;transform:scaleX(1.0663);-webkit-text-stroke:0.7px #595959">T</div><div class="t" style="left:413.42px;top:961.33px;font-size:27.97px;line-height:31.25px;font-weight:normal;color:#595959;transform:scaleX(0.7375);-webkit-text-stroke:0.7px #595959">C</div><div class="t" style="left:430.35px;top:961.33px;font-size:27.97px;line-height:31.25px;font-weight:normal;color:#595959;transform:scaleX(0.9832);-webkit-text-stroke:0.7px #595959">H</div><div class="t" style="left:459.29px;top:961.33px;font-size:27.97px;line-height:31.25px;font-weight:normal;color:#595959;transform:scaleX(0.9032);-webkit-text-stroke:0.7px #595959">T</div><div class="t" style="left:478.30px;top:961.33px;font-size:27.97px;line-height:31.25px;font-weight:normal;color:#595959;transform:scaleX(0.8713);-webkit-text-stroke:0.7px #595959">R</div><div class="t" style="left:498.26px;top:961.33px;font-size:27.97px;line-height:31.25px;font-weight:normal;color:#595959;transform:scaleX(0.7085);-webkit-text-stroke:0.7px #595959">E</div><div class="t" style="left:515.46px;top:961.33px;font-size:27.97px;line-height:31.25px;font-weight:normal;color:#595959;transform:scaleX(1.0470);-webkit-text-stroke:0.7px #595959">N</div><div class="t" style="left:538.47px;top:961.33px;font-size:27.97px;line-height:31.25px;font-weight:normal;color:#595959;transform:scaleX(0.9974);-webkit-text-stroke:0.7px #595959">D</div>
</div></body></html>
